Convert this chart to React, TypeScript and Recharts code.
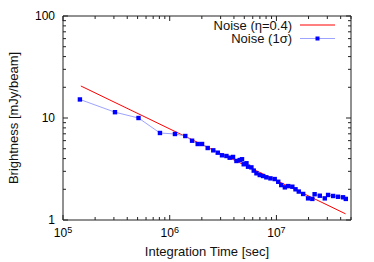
import React from 'react';
import { LineChart, Line, XAxis, YAxis, Legend, Label } from 'recharts';

const timeSec = [
  1.44e5, 3.07e5, 5.1e5, 8.1e5, 1.12e6, 1.4e6, 1.62e6, 1.83e6, 2.01e6, 2.27e6,
  2.56e6, 2.82e6, 3.09e6, 3.4e6, 3.65e6, 3.92e6, 4.22e6, 4.53e6, 4.76e6, 4.94e6,
  5.24e6, 5.42e6, 5.83e6, 6.13e6, 6.5e6, 6.98e6, 7.49e6, 8.05e6, 8.79e6, 9.64e6,
  1.04e7, 1.11e7, 1.2e7, 1.29e7, 1.41e7, 1.51e7, 1.62e7, 1.78e7, 1.98e7, 2.17e7,
  2.28e7, 2.55e7, 2.84e7, 3.05e7, 3.4e7, 3.78e7, 4.21e7, 4.47e7,
];
const noise1Sigma = [
  15.2, 11.4, 10.0, 7.13, 6.97, 6.66, 5.99, 5.56, 5.56, 5.08,
  4.82, 4.57, 4.31, 4.24, 4.08, 4.15, 3.79, 3.87, 3.94, 3.52,
  3.6, 3.33, 3.28, 3.05, 2.87, 2.76, 2.7, 2.62, 2.56, 2.52,
  2.37, 2.2, 2.09, 2.15, 2.12, 2.0, 1.9, 1.8, 1.63, 1.61,
  1.79, 1.73, 1.63, 1.76, 1.72, 1.69, 1.67, 1.61,
];

// model noise line (eta = 0.4), straight in log-log
const modelTime = [1.47e5, 4.44e7];
const modelNoise = [20.6, 1.15];

const seriesNames = ['Noise (\u03b7=0.4)', 'Noise (1\u03c3)'];

const xMajor = [1e5, 1e6, 1e7];
const xTickExp = ['5', '6', '7'];
const yMajor = [1, 10, 100];
const yTickLabels = ['1', '10', '100'];
const minorSteps = [2, 3, 4, 5, 6, 7, 8, 9];

const xTicks = xMajor.flatMap((d) => [d, ...minorSteps.map((m) => m * d)]).filter((v) => v <= 5e7);
const yTicks = [...yMajor.slice(0, 2).flatMap((d) => [d, ...minorSteps.map((m) => m * d)]), 100];

const measured = timeSec.map((t, i) => ({ t, v: noise1Sigma[i] }));
const model = modelTime.map((t, i) => ({ t, v: modelNoise[i] }));

const FONT = '"Liberation Sans", Arial, Helvetica, sans-serif';
const AXIS = '#222';
const RED = '#ff0000';
const BLUE_LINE = '#9da3ff';
const BLUE = '#0000ff';

const BottomTick = (props: any) => {
  const { x, y, payload } = props;
  const i = xMajor.indexOf(payload.value);
  return (
    <g>
      <line x1={x} x2={x} y1={y} y2={y - (i >= 0 ? 5 : 3)} stroke={AXIS} />
      {i >= 0 && (
        <text x={x} y={y + 16.5} textAnchor="middle" fontSize={12} fill="#000" fontFamily={FONT}>
          10
          <tspan dy={-4} fontSize={9}>
            {xTickExp[i]}
          </tspan>
        </text>
      )}
    </g>
  );
};

const TopTick = (props: any) => {
  const { x, y, payload } = props;
  const major = xMajor.includes(payload.value);
  return <line x1={x} x2={x} y1={y} y2={y + (major ? 5 : 3)} stroke={AXIS} />;
};

const LeftTick = (props: any) => {
  const { x, y, payload } = props;
  const i = yMajor.indexOf(payload.value);
  return (
    <g>
      <line x1={x} x2={x + (i >= 0 ? 5 : 3)} y1={y} y2={y} stroke={AXIS} />
      {i >= 0 && (
        <text x={x - 8} y={y + 4.3} textAnchor="end" fontSize={12} fill="#000" fontFamily={FONT}>
          {yTickLabels[i]}
        </text>
      )}
    </g>
  );
};

const RightTick = (props: any) => {
  const { x, y, payload } = props;
  const major = yMajor.includes(payload.value);
  return <line x1={x} x2={x - (major ? 5 : 3)} y1={y} y2={y} stroke={AXIS} />;
};

const YTitle = (props: any) => {
  const vb = props.viewBox || { x: 0, y: 16, width: 63, height: 204 };
  const cx = vb.x + 13;
  const cy = vb.y + vb.height / 2;
  return (
    <text
      transform={`translate(${cx},${cy}) rotate(-90)`}
      textAnchor="middle"
      dominantBaseline="central"
      fontSize={13}
      fill="#111"
      fontFamily={FONT}
    >
      Brightness [mJy/beam]
    </text>
  );
};

const renderSquare = (props: any) => {
  const { cx, cy, index } = props;
  if (cx == null || cy == null) return <g key={`s-${index}`} />;
  return <rect key={`s-${index}`} x={cx - 2.2} y={cy - 2.2} width={4.4} height={4.4} fill={BLUE} />;
};

const LegendBox = ({ payload }: any) => {
  const rows = [...(payload || [])].sort(
    (a: any, b: any) => seriesNames.indexOf(a.value) - seriesNames.indexOf(b.value)
  );
  return (
    <svg width={374} height={50} style={{ display: 'block' }}>
      {rows.map((e: any, i: number) => {
        const cy = 25 + i * 13.5;
        return (
          <g key={e.value}>
            <text x={292} y={cy + 4.5} textAnchor="end" fontSize={13} fill="#111" fontFamily={FONT}>
              {e.value}
            </text>
            <line x1={300} x2={335} y1={cy} y2={cy} stroke={e.color} />
            {e.value === seriesNames[1] && (
              <rect x={315.5} y={cy - 2} width={4} height={4} fill={BLUE} />
            )}
          </g>
        );
      })}
    </svg>
  );
};

export default function App() {
  return (
    <div style={{ position: 'absolute', left: 0, top: 0, background: '#fff' }}>
      <LineChart width={374} height={262} margin={{ top: 0, right: 0, bottom: 0, left: 0 }}>
        <XAxis
          xAxisId="b"
          dataKey="t"
          type="number"
          scale="log"
          domain={[1e5, 5e7]}
          allowDataOverflow
          ticks={xTicks}
          interval={0}
          orientation="bottom"
          height={42}
          tickSize={0}
          tickMargin={0}
          tickLine={false}
          tick={<BottomTick />}
          axisLine={{ stroke: AXIS }}
        >
          <Label
            value="Integration Time [sec]"
            position="insideBottom"
            offset={6}
            fontSize={13}
            fill="#111"
            fontFamily={FONT}
          />
        </XAxis>
        <XAxis
          xAxisId="t"
          dataKey="t"
          type="number"
          scale="log"
          domain={[1e5, 5e7]}
          allowDataOverflow
          ticks={xTicks}
          interval={0}
          orientation="top"
          height={16}
          tickSize={0}
          tickMargin={0}
          tickLine={false}
          tick={<TopTick />}
          axisLine={{ stroke: AXIS }}
        />
        <YAxis
          yAxisId="l"
          dataKey="v"
          type="number"
          scale="log"
          domain={[1, 100]}
          allowDataOverflow
          ticks={yTicks}
          interval={0}
          orientation="left"
          width={63}
          tickSize={0}
          tickMargin={0}
          tickLine={false}
          tick={<LeftTick />}
          axisLine={{ stroke: AXIS }}
        >
          <Label content={<YTitle />} />
        </YAxis>
        <YAxis
          yAxisId="r"
          dataKey="v"
          type="number"
          scale="log"
          domain={[1, 100]}
          allowDataOverflow
          ticks={yTicks}
          interval={0}
          orientation="right"
          width={23}
          tickSize={0}
          tickMargin={0}
          tickLine={false}
          tick={<RightTick />}
          axisLine={{ stroke: AXIS }}
        />
        <Legend
          layout="horizontal"
          verticalAlign="middle"
          align="center"
          content={<LegendBox />}
          wrapperStyle={{ position: 'absolute', left: 0, top: 0, width: 374, height: 50, pointerEvents: 'none' }}
        />
        <Line
          xAxisId="b"
          yAxisId="l"
          data={model}
          dataKey="v"
          name={seriesNames[0]}
          type="linear"
          stroke={RED}
          strokeWidth={1}
          dot={false}
          activeDot={false}
          isAnimationActive={false}
        />
        <Line
          xAxisId="b"
          yAxisId="l"
          data={measured}
          dataKey="v"
          name={seriesNames[1]}
          type="linear"
          stroke={BLUE_LINE}
          strokeWidth={1}
          dot={renderSquare}
          activeDot={false}
          isAnimationActive={false}
        />
      </LineChart>
    </div>
  );
}
